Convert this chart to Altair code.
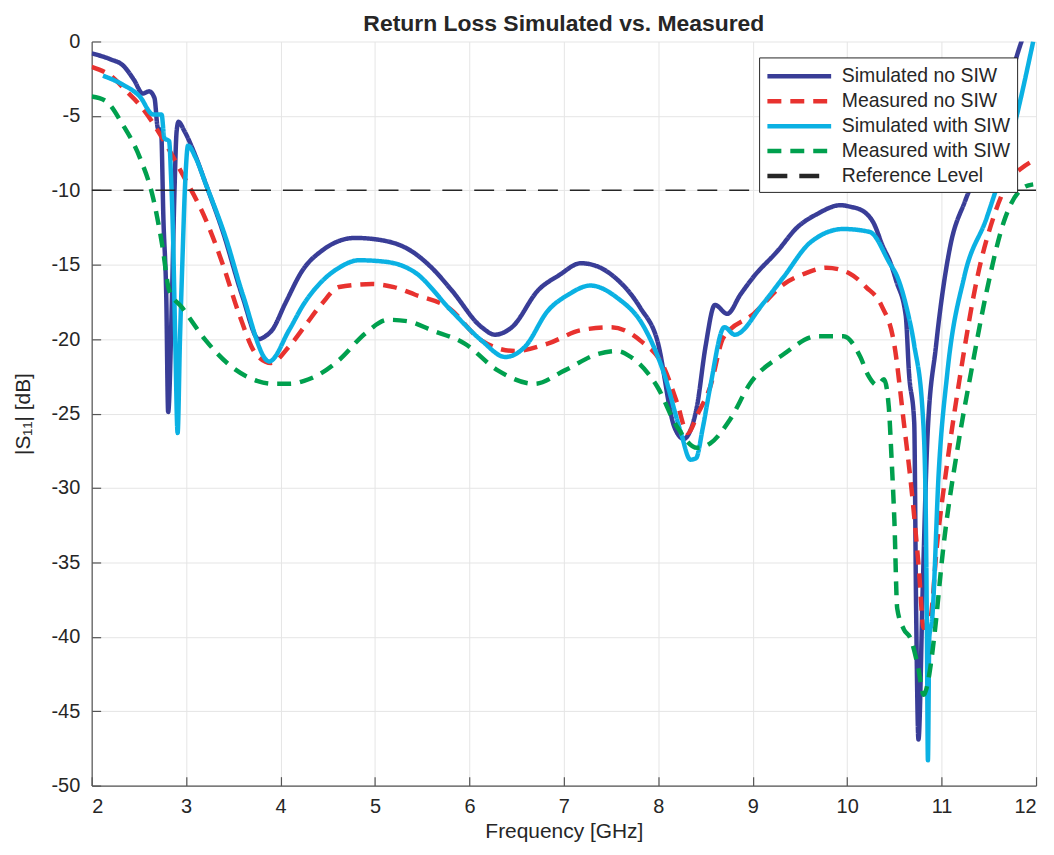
import altair as alt
import pandas as pd

# ---------------- data ----------------
series_names = ["Simulated no SIW", "Measured no SIW", "Simulated with SIW",
                "Measured with SIW", "Reference Level"]

sim_no_f = [2.00, 2.20, 2.33, 2.45, 2.54, 2.61, 2.665, 2.70, 2.735, 2.76, 2.79, 2.81,
            2.85, 2.875, 2.90, 2.92, 2.98, 3.10, 3.21, 3.385, 3.60, 3.77, 3.84, 3.91,
            4.05, 4.23, 4.45, 4.62, 4.79, 5.11, 5.39, 5.60, 5.81, 6.13, 6.27, 6.45,
            6.73, 6.95, 7.18, 7.35, 7.53, 7.81, 7.99, 8.17, 8.27, 8.31, 8.41, 8.50,
            8.60, 8.73, 8.87, 9.01, 9.26, 9.47, 9.68, 9.93, 10.03, 10.17, 10.28,
            10.38, 10.46, 10.52, 10.62, 10.655, 10.71, 10.73, 10.755, 10.80, 10.85,
            10.94, 11.09, 11.25, 11.41, 11.60, 11.83, 11.90]
sim_no_db = [-0.8, -1.2, -1.6, -2.6, -3.5, -3.35, -3.8, -5.8, -6.0, -12.0, -17.2, -24.9,
             -17.2, -10.5, -6.0, -5.4, -6.0, -7.7, -9.6, -12.7, -17.2, -20.0, -19.8, -19.4,
             -17.6, -15.4, -14.0, -13.4, -13.2, -13.4, -14.1, -15.2, -16.7, -19.2, -19.7, -19.2,
             -16.7, -15.7, -14.9, -15.1, -15.8, -17.9, -20.1, -25.9, -26.7, -26.5, -24.5, -20.5,
             -17.7, -18.3, -17.0, -15.8, -14.1, -12.5, -11.6, -11.0, -11.1, -11.4, -12.2,
             -13.8, -14.9, -16.1, -18.4, -22.3, -25.6, -38.1, -46.9, -36.8, -26.6,
             -20.5, -13.8, -10.7, -8.3, -5.2, -0.3, 1.0]

meas_no_f = [2.00, 2.20, 2.37, 2.54, 2.72, 2.96, 3.21, 3.39, 3.56, 3.74, 3.90, 4.09, 4.26,
             4.44, 4.62, 4.97, 5.20, 5.42, 5.78, 6.13, 6.48, 6.83, 7.18, 7.50, 7.81, 8.06,
             8.20, 8.31, 8.42, 8.55, 8.69, 9.01, 9.33, 9.55, 9.78, 10.03, 10.20, 10.36,
             10.50, 10.60, 10.69, 10.76, 10.81, 10.88, 10.95, 11.06, 11.20, 11.38, 11.55,
             11.73, 11.85, 12.00]
meas_no_db = [-1.7, -2.3, -3.35, -4.5, -6.2, -8.9, -12.0, -15.0, -18.3, -21.0, -21.6, -20.5,
              -19.1, -17.6, -16.5, -16.3, -16.5, -17.0, -17.9, -20.1, -20.8, -20.3, -19.4,
              -19.2, -20.1, -21.9, -24.3, -26.3, -25.0, -23.2, -19.9, -18.3, -16.3, -15.6,
              -15.2, -15.6, -16.5, -17.7, -20.4, -25.6, -30.6, -35.5, -39.4, -38.8, -33.9,
              -28.3, -22.3, -15.8, -11.8, -9.2, -8.5, -7.9]

sim_with_f = [2.12, 2.33, 2.51, 2.65, 2.74, 2.77, 2.82, 2.84, 2.86, 2.885, 2.91, 2.935,
              2.96, 2.99, 3.02, 3.10, 3.21, 3.42, 3.60, 3.88, 4.09, 4.25, 4.44, 4.62, 4.83,
              5.11, 5.42, 5.81, 6.13, 6.38, 6.59, 6.83, 7.05, 7.28, 7.56, 7.85, 8.06, 8.24,
              8.34, 8.40, 8.47, 8.55, 8.70, 8.81, 9.11, 9.33, 9.61, 9.96, 10.24, 10.45,
              10.53, 10.63, 10.71, 10.80, 10.83, 10.845, 10.855, 10.87, 10.90, 10.97, 11.06,
              11.24, 11.48, 11.76, 11.97]
sim_with_db = [-2.3, -2.9, -3.7, -4.9, -4.9, -6.5, -6.7, -9.0, -12.7, -20.0, -26.3, -20.0,
               -14.9, -9.5, -7.0, -7.8, -9.6, -13.2, -17.0, -21.5, -19.4, -17.6, -16.1,
               -15.2, -14.7, -14.8, -15.5, -18.1, -20.1, -21.2, -20.5, -18.1, -17.0, -16.4,
               -17.2, -19.2, -22.3, -26.3, -28.1, -28.0, -26.0, -23.2, -19.2, -19.7, -17.6,
               -15.8, -13.5, -12.6, -12.8, -14.9, -15.8, -17.9, -20.4, -25.0, -30.6, -40.0,
               -48.3, -40.0, -38.8, -28.9, -22.3, -15.8, -11.8, -5.9, 0.0]

meas_with_f = [2.00, 2.15, 2.33, 2.51, 2.65, 2.75, 2.82, 2.96, 3.21, 3.49, 3.75, 3.91, 4.10,
               4.25, 4.40, 4.62, 4.90, 5.14, 5.35, 5.60, 5.95, 6.30, 6.69, 7.01, 7.36, 7.57,
               7.71, 7.99, 8.20, 8.41, 8.55, 8.76, 8.97, 9.33, 9.68, 9.96, 10.14, 10.22,
               10.32, 10.39, 10.44, 10.47, 10.50, 10.53, 10.60, 10.67, 10.75, 10.81, 10.87,
               10.92, 11.02, 11.17, 11.31, 11.48, 11.66, 11.87, 11.97]
meas_with_db = [-3.7, -4.0, -5.6, -7.8, -10.5, -13.8, -16.7, -17.9, -20.1, -21.9, -22.8,
                -23.0, -23.0, -22.8, -22.4, -21.4, -19.6, -18.7, -18.8, -19.4, -20.3, -22.1,
                -23.0, -22.1, -21.0, -20.8, -21.2, -23.2, -25.9, -27.3, -27.0, -25.4, -23.0,
                -21.0, -19.8, -19.8, -21.2, -22.4, -23.1, -22.7, -24.5, -28.0, -32.2, -38.1,
                -39.5, -40.1, -42.0, -43.9, -42.5, -40.1, -33.9, -27.3, -22.3, -16.7, -12.1,
                -9.8, -9.6]

ref_f = [2.0, 12.0]
ref_db = [-10.0, -10.0]

x_ticks = list(range(2, 13))
y_ticks = list(range(-50, 1, 5))

colors = ["#393D97", "#E8322F", "#0BB1E3", "#00A04E", "#262626"]
dashes = [[1, 0], [14, 9], [1, 0], [14, 9], [20, 12]]

# ---------------- tables ----------------
frames = []
for name, f, d in zip(series_names[:4],
                      [sim_no_f, meas_no_f, sim_with_f, meas_with_f],
                      [sim_no_db, meas_no_db, sim_with_db, meas_with_db]):
    frames.append(pd.DataFrame({"freq": f, "s11": d, "series": name}))
curves = pd.concat(frames, ignore_index=True)
curves["order"] = range(len(curves))
ref = pd.DataFrame({"freq": ref_f, "s11": ref_db, "series": series_names[4]})
ref["order"] = range(len(ref))

FONT = "Liberation Sans"
TXT = "#262626"
AXC = "#555555"

xscale = alt.Scale(domain=[2, 12], nice=False, zero=False)
yscale = alt.Scale(domain=[-50, 0], nice=False, zero=False)

# main axes: labels, titles, grid
xenc = alt.X("freq:Q", scale=xscale,
             axis=alt.Axis(title="Frequency [GHz]", values=x_ticks, format="d",
                           titlePadding=4, labelPadding=11, ticks=False))
yenc = alt.Y("s11:Q", scale=yscale,
             axis=alt.Axis(title="|S₁₁| [dB]", values=y_ticks,
                           labelExpr="'' + datum.value", ticks=False,
                           titlePadding=18, labelPadding=12))

# secondary axes: only inward-looking tick marks
tick_ax = dict(labels=False, domain=False, grid=False, ticks=True, tickSize=9,
               tickColor=AXC, tickWidth=1.2, title=None, offset=-9)
xenc2 = alt.X("freq:Q", scale=xscale,
              axis=alt.Axis(orient="bottom", values=x_ticks, **tick_ax))
yenc2 = alt.Y("s11:Q", scale=yscale,
              axis=alt.Axis(orient="left", values=y_ticks, **tick_ax))

legend = alt.Legend(
    title=None, orient="none", legendX=670, legendY=16,
    fillColor="white", strokeColor="#262626", padding=6,
    symbolType="M-1,0H5", symbolSize=455, symbolStrokeWidth=4.5,
    labelFont=FONT, labelFontSize=19.5, labelColor=TXT, labelOffset=51,
    rowPadding=2, labelLimit=400,
)
color = alt.Color("series:N", scale=alt.Scale(domain=series_names, range=colors),
                  legend=legend)
dash = alt.StrokeDash("series:N", scale=alt.Scale(domain=series_names, range=dashes),
                      legend=legend)

lines = alt.Chart(curves).mark_line(strokeWidth=4.5, clip=True,
                                    interpolate="monotone").encode(
    x=xenc, y=yenc, color=color, strokeDash=dash, order="order:Q")

refline = alt.Chart(ref).mark_line(strokeWidth=1.6, clip=True).encode(
    x=xenc2, y=yenc2, color=color, strokeDash=dash, order="order:Q")

chart = alt.layer(lines, refline).resolve_axis(
    x="independent", y="independent"
).properties(
    width=948, height=747,
    title=alt.TitleParams("Return Loss Simulated vs. Measured", font=FONT,
                          fontSize=23, fontWeight="bold", color=TXT,
                          anchor="middle", offset=0, dy=4),
    autosize=alt.AutoSizeParams(type="none"),
    padding={"left": 84, "top": 32, "right": 10, "bottom": 60},
).configure_view(stroke=None).configure_axis(
    labelFont=FONT, titleFont=FONT, labelFontSize=20, titleFontSize=21,
    labelColor=TXT, titleColor=TXT, titleFontWeight="normal",
    gridColor="#E5E5E5", gridWidth=1, domainColor=AXC, domainWidth=1.2,
)

chart.save("out.html", embed_options={"renderer": "svg", "actions": False})
